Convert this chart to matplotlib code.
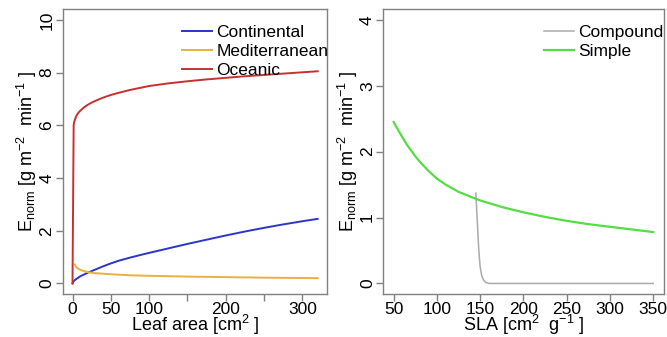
import matplotlib
matplotlib.use("Agg")
import matplotlib.pyplot as plt

plt.rcParams['font.family'] = ['Liberation Sans', 'DejaVu Sans']
plt.rcParams['mathtext.fontset'] = 'custom'
plt.rcParams['mathtext.rm'] = 'Liberation Sans'
plt.rcParams['mathtext.it'] = 'Liberation Sans:italic'

# Left panel: E_norm vs leaf area
cont_x = [0, 1, 2, 4, 6, 8, 10, 15, 20, 25, 30, 40, 50, 60, 75, 90, 100, 125,
          150, 175, 200, 225, 250, 275, 300, 320]
cont_y = [0, 0.06, 0.1, 0.15, 0.19, 0.23, 0.27, 0.34, 0.41, 0.47, 0.53, 0.65,
          0.76, 0.86, 0.98, 1.09, 1.16, 1.33, 1.5, 1.66, 1.82, 1.97, 2.11,
          2.24, 2.36, 2.45]
med_x = [3, 4, 5, 6, 8, 10, 15, 20, 25, 30, 40, 50, 75, 100, 150, 200, 250, 320]
med_y = [0.72, 0.66, 0.62, 0.59, 0.55, 0.52, 0.47, 0.43, 0.41, 0.39, 0.37,
         0.35, 0.31, 0.29, 0.26, 0.24, 0.22, 0.2]
oce_x = [0, 1.5, 2, 3, 4, 5, 7, 10, 15, 20, 25, 30, 40, 50, 60, 75, 90, 100,
         125, 150, 175, 200, 225, 250, 275, 300, 320]
oce_y = [0, 6.0, 6.1, 6.2, 6.28, 6.35, 6.45, 6.55, 6.68, 6.78, 6.86, 6.93,
         7.05, 7.15, 7.23, 7.34, 7.43, 7.49, 7.59, 7.67, 7.74, 7.8, 7.86,
         7.91, 7.96, 8.01, 8.05]

# Right panel: E_norm vs SLA
comp_x = [145, 146, 147, 148, 149, 150, 151, 152, 154, 156, 158, 160, 200,
          250, 300, 350]
comp_y = [1.37, 1.1, 0.85, 0.6, 0.4, 0.25, 0.17, 0.11, 0.05, 0.02, 0.01, 0,
          0, 0, 0, 0]
simp_x = [50, 55, 60, 65, 70, 75, 80, 90, 100, 110, 125, 140, 150, 175, 200,
          225, 250, 275, 300, 325, 350]
simp_y = [2.45, 2.33, 2.22, 2.11, 2.02, 1.93, 1.85, 1.71, 1.59, 1.5, 1.39,
          1.31, 1.26, 1.16, 1.08, 1.01, 0.95, 0.9, 0.86, 0.82, 0.78]

left_ticks = [0, 50, 100, 150, 200, 250, 300]
left_labels = ['0', '50', '100', '', '200', '', '300']
right_ticks = [50, 100, 150, 200, 250, 300, 350]

ylab = r'E$_{\mathrm{norm}}$ [g m$^{-2}$  min$^{-1}$ ]'

fig = plt.figure(figsize=(6.67, 3.37), dpi=100)
ax1 = fig.add_axes([0.094, 0.1276, 0.397, 0.8448])
ax2 = fig.add_axes([0.5747, 0.1276, 0.4201, 0.8448])

ax1.plot(cont_x, cont_y, color='#2b35c8', lw=1.4, label='Continental')
ax1.plot(med_x, med_y, color='#e8b040', lw=1.4, label='Mediterranean')
ax1.plot(oce_x, oce_y, color='#c83030', lw=1.4, label='Oceanic')
ax1.set_xlim(-12.8, 332.8)
ax1.set_ylim(-0.4, 10.4)
ax1.set_xticks(left_ticks)
ax1.set_xticklabels(left_labels)
ax1.set_yticks([0, 2, 4, 6, 8, 10])
ax1.set_xlabel(r'Leaf area [cm$^{2}$ ]', fontsize=13, labelpad=-3)
ax1.set_ylabel(ylab, fontsize=13, labelpad=0)

ax2.plot(comp_x, comp_y, color='#aaaaaa', lw=1.1, label='Compound')
ax2.plot(simp_x, simp_y, color='#55dd44', lw=1.6, label='Simple')
ax2.set_xlim(38, 362)
ax2.set_ylim(-0.16, 4.16)
ax2.set_xticks(right_ticks)
ax2.set_yticks([0, 1, 2, 3, 4])
ax2.set_xlabel(r'SLA [cm$^{2}$  g$^{-1}$ ]', fontsize=13, labelpad=-3)
ax2.set_ylabel(ylab, fontsize=13, labelpad=0)

for ax in (ax1, ax2):
    for s in ax.spines.values():
        s.set_color('#808080')
        s.set_linewidth(1.0)
    ax.tick_params(length=5, width=1, color='#808080', labelsize=12.5, pad=1)
    for lab in ax.get_yticklabels():
        lab.set_rotation(90)
        lab.set_va('center')

ax1.legend(loc='upper left', bbox_to_anchor=(0.45, 0.945), frameon=False,
           fontsize=12.5, borderpad=0, borderaxespad=0, handlelength=1.75,
           handletextpad=0.25, labelspacing=0.22)
ax2.legend(loc='upper left', bbox_to_anchor=(0.5735, 0.945), frameon=False,
           fontsize=12.5, borderpad=0, borderaxespad=0, handlelength=1.7,
           handletextpad=0.25, labelspacing=0.22)

fig.savefig('out.png', dpi=100)
